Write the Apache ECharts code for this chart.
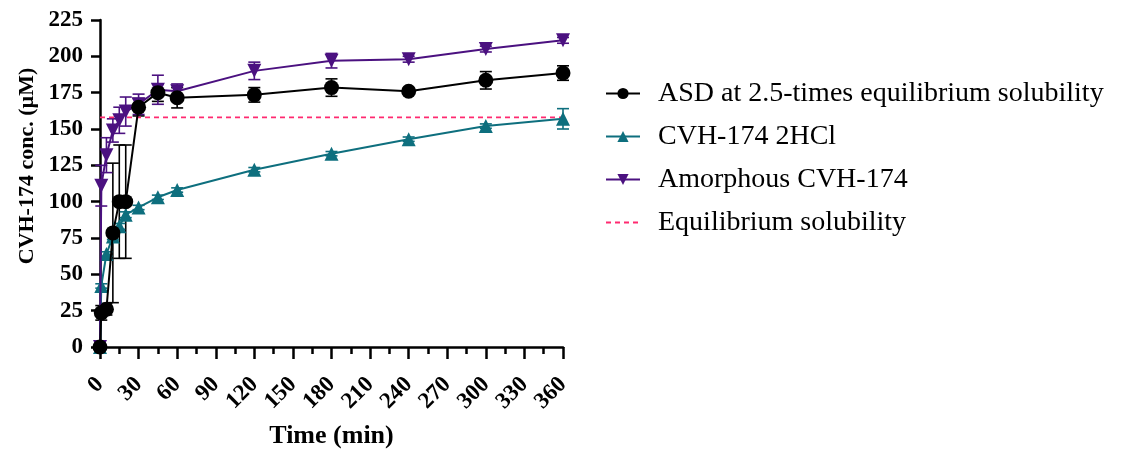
<!DOCTYPE html>
<html>
<head>
<meta charset="utf-8">
<script src="https://cdn.jsdelivr.net/npm/echarts@6/dist/echarts.min.js"></script>
<style>html,body{margin:0;padding:0;background:#fff}#c{width:1124px;height:450px}</style>
</head>
<body>
<div id="c"></div>
<script>
const times = [0, 1, 5, 10, 15, 20, 30, 45, 60, 120, 180, 240, 300, 360];
const asdMean = [0, 23.5, 26, 78.5, 100, 100, 165, 175, 171.5, 173.5, 178.5, 176, 183.5, 188.5];
const asdErr  = [0, 5, 4, 48, 39, 39, 6, 6, 7, 5, 6, 2, 6, 5];
const hclMean = [0, 42, 64, 76, 83, 91, 96, 103, 108, 122, 133, 143, 152, 157];
const hclErr  = [0, 1.5, 1.5, 2, 2, 2, 1.5, 1.5, 1.5, 1.5, 1.5, 1.5, 1.5, 7];
const amoMean = [0, 111, 132, 149, 156, 162, 167, 177, 176, 190, 197, 198, 205, 211];
const amoErr  = [0, 14, 12, 8, 9, 10, 7, 10, 5, 6, 5, 2, 2, 2];
const eqSol = 158;
const eqRange = [0, 360];
const seriesNames = ['ASD at 2.5-times equilibrium solubility', 'CVH-174 2HCl', 'Amorphous CVH-174', 'Equilibrium solubility'];
const yTitle = 'CVH-174 conc. (µM)';
const xTitle = 'Time (min)';

const FONT = '"Liberation Serif", "Times New Roman", serif';
const C_BLACK = '#000000', C_TEAL = '#0e6f7e', C_PURPLE = '#4b1180', C_PINK = '#ff2a70';

function pairs(m) { return times.map((t, i) => [t, m[i]]); }
function errData(m, e) { return times.map((t, i) => [t, m[i] - e[i], m[i] + e[i]]); }
function errSeries(name, m, e, color) {
  return {
    type: 'custom', name: name, data: errData(m, e), z: 1,
    renderItem: function (params, api) {
      const x = api.value(0);
      const lo = api.coord([x, api.value(1)]);
      const hi = api.coord([x, api.value(2)]);
      const w = 6;
      const st = { stroke: color, lineWidth: 1.6 };
      return { type: 'group', children: [
        { type: 'line', shape: { x1: lo[0], y1: lo[1], x2: hi[0], y2: hi[1] }, style: st },
        { type: 'line', shape: { x1: lo[0] - w, y1: lo[1], x2: lo[0] + w, y2: lo[1] }, style: st },
        { type: 'line', shape: { x1: hi[0] - w, y1: hi[1], x2: hi[0] + w, y2: hi[1] }, style: st }
      ]};
    },
    tooltip: { show: false }, silent: true
  };
}

const legendData = seriesNames.map((n, i) => i === 3 ? { name: n, itemStyle: { opacity: 0 } } : { name: n });

const chart = echarts.init(document.getElementById('c'), null, { renderer: 'canvas' });
chart.setOption({
  animation: false,
  backgroundColor: '#fff',
  grid: { left: 100, right: 561, top: 20, bottom: 103, containLabel: false, outerBoundsMode: 'none' },
  xAxis: {
    type: 'value', min: 0, max: 360, interval: 30,
    name: xTitle, nameLocation: 'middle', nameGap: 76,
    nameTextStyle: { fontFamily: FONT, fontWeight: 'bold', fontSize: 26, color: '#000' },
    axisLine: { lineStyle: { color: '#000', width: 2.5 } },
    axisTick: { length: 12, lineStyle: { color: '#000', width: 2.5 } },
    minorTick: { show: true, splitNumber: 2, length: 7, lineStyle: { color: '#000', width: 2.5 } },
    splitLine: { show: false },
    axisLabel: { rotate: 45, margin: 34, fontFamily: FONT, fontWeight: 'bold', fontSize: 23, color: '#000' }
  },
  yAxis: {
    type: 'value', min: 0, max: 225, interval: 25,
    axisLine: { show: true, lineStyle: { color: '#000', width: 2.5 } },
    axisTick: { show: true, length: 9, lineStyle: { color: '#000', width: 2.5 } },
    splitLine: { show: false },
    axisLabel: { margin: 17, fontFamily: FONT, fontWeight: 'bold', fontSize: 23, color: '#000' }
  },
  legend: {
    orient: 'vertical', left: 600, top: 73,
    data: legendData,
    itemWidth: 34, itemHeight: 14, itemGap: 12,
    textStyle: { fontFamily: FONT, fontSize: 28, color: '#000', lineHeight: 31, padding: [0, 0, 0, 13] }
  },
  graphic: [{
    type: 'text', x: 27, y: 166, rotation: Math.PI / 2,
    style: { text: yTitle, fontFamily: FONT, fontWeight: 'bold', fontSize: 22, fill: '#000', align: 'center', verticalAlign: 'middle' }
  }],
  series: [
    errSeries('errAsd', asdMean, asdErr, C_BLACK),
    errSeries('errHcl', hclMean, hclErr, C_TEAL),
    errSeries('errAmo', amoMean, amoErr, C_PURPLE),
    {
      type: 'line', name: seriesNames[3], data: eqRange.map(t => [t, eqSol]),
      symbol: 'none', z: 2,
      lineStyle: { color: C_PINK, width: 1.6, type: [5, 4] }, itemStyle: { color: C_PINK }
    },
    {
      type: 'line', name: seriesNames[1], data: pairs(hclMean),
      symbol: 'triangle', symbolSize: 14, z: 3,
      lineStyle: { color: C_TEAL, width: 2 }, itemStyle: { color: C_TEAL }
    },
    {
      type: 'line', name: seriesNames[2], data: pairs(amoMean),
      symbol: 'triangle', symbolRotate: 180, symbolSize: 14, z: 4,
      lineStyle: { color: C_PURPLE, width: 2 }, itemStyle: { color: C_PURPLE }
    },
    {
      type: 'line', name: seriesNames[0], data: pairs(asdMean),
      symbol: 'circle', symbolSize: 15, z: 5,
      lineStyle: { color: C_BLACK, width: 2 }, itemStyle: { color: C_BLACK }
    }
  ]
});
</script>
</body>
</html>
